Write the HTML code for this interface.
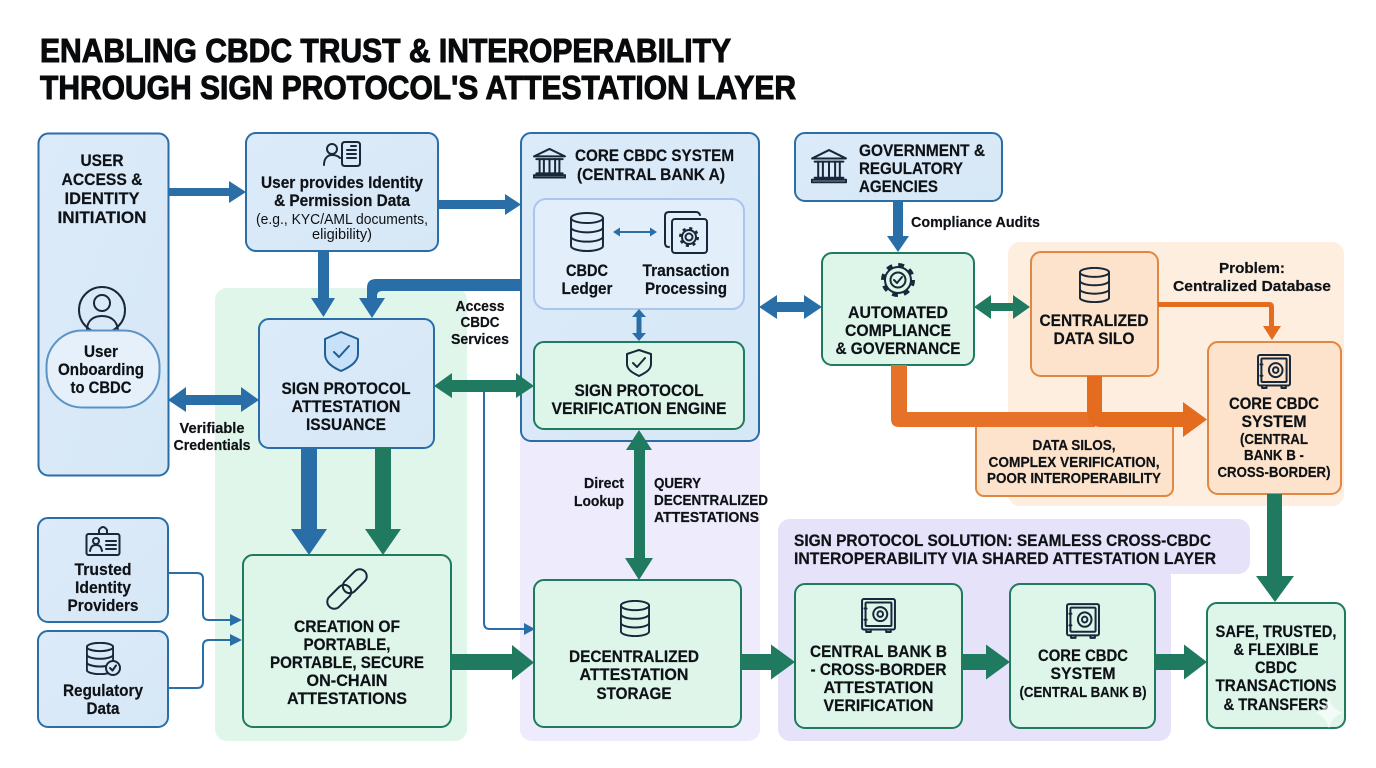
<!DOCTYPE html>
<html><head><meta charset="utf-8"><title>CBDC Attestation Layer</title>
<style>
html,body{margin:0;padding:0;background:#fff;width:1376px;height:768px;overflow:hidden}
svg{display:block}
text{font-family:"Liberation Sans",sans-serif;fill:#0e1216;stroke:#0e1216;stroke-width:.2px;font-weight:bold;font-size:17px;text-anchor:middle}
.l{text-anchor:start}
.r{font-weight:normal;stroke:none}
.s{font-size:15px}
.t{font-size:33px;stroke-width:1px;fill:#080a0c;stroke:#080a0c}
.ic{fill:none;stroke:#17283a;stroke-width:2;stroke-linecap:round;stroke-linejoin:round;vector-effect:non-scaling-stroke}
.ic *{vector-effect:non-scaling-stroke}
.b{fill:url(#gb);stroke:#2a6ea8;stroke-width:2}
.g{fill:url(#gg);stroke:#1f7a5f;stroke-width:2}
.o{fill:#fde3cb;stroke:#df8743;stroke-width:2}
.ab{fill:#2a6ea8}.ag{fill:#1f7a5f}.ao{fill:#e46c1f}
</style></head><body>
<svg xmlns="http://www.w3.org/2000/svg" width="1376" height="768" viewBox="0 0 1376 768">
<defs>
<linearGradient id="gb" x1="0" y1="0" x2="1" y2="1"><stop offset="0" stop-color="#dcebf9"/><stop offset="1" stop-color="#d6e7f6"/></linearGradient>
<linearGradient id="gg" x1="0" y1="0" x2="1" y2="1"><stop offset="0" stop-color="#def6ea"/><stop offset="1" stop-color="#dff5ea"/></linearGradient>
<symbol id="db" viewBox="0 0 100 120" preserveAspectRatio="none"><g class="ic"><ellipse cx="50" cy="18" rx="47" ry="15"/><path d="M3 18V102C3 110 24 117 50 117S97 110 97 102V18"/><path d="M3 46C3 54 24 61 50 61S97 54 97 46"/><path d="M3 74C3 82 24 89 50 89S97 82 97 74"/></g></symbol>
<symbol id="bank" viewBox="0 0 100 100" preserveAspectRatio="none"><g class="ic"><path d="M50 3L97 27H3Z"/><path d="M10 36H90M10 82H90M2 95H98V88H2Z"/><path d="M20 36V82M33 36V82M50 36V82M67 36V82M80 36V82"/></g></symbol>
<symbol id="safe" viewBox="0 0 100 100" preserveAspectRatio="none"><g class="ic"><rect x="3" y="3" width="94" height="87" rx="5"/><rect x="13" y="13" width="74" height="67" rx="3"/><circle cx="55" cy="46" r="20"/><circle cx="55" cy="46" r="8"/><path d="M10 30H16M10 62H16M15 90V97H28V90M72 90V97H85V90"/></g></symbol>
</defs>

<rect width="1376" height="768" fill="#fff"/>

<text class="l t" x="40" y="62" textLength="691" lengthAdjust="spacingAndGlyphs">ENABLING CBDC TRUST &amp; INTEROPERABILITY</text>
<text class="l t" x="40" y="99" textLength="756" lengthAdjust="spacingAndGlyphs">THROUGH SIGN PROTOCOL'S ATTESTATION LAYER</text>

<!-- background zones -->
<rect x="215" y="288" width="252" height="453" rx="12" fill="#e1f6ea"/>
<rect x="520" y="430" width="240" height="311" rx="12" fill="#edebfc"/>
<rect x="1008" y="242" width="336" height="264" rx="12" fill="#fdeee0"/>
<path d="M790 519H1238a12 12 0 0 1 12 12V562a12 12 0 0 1-12 12H1171V729a12 12 0 0 1-12 12H790a12 12 0 0 1-12-12V531a12 12 0 0 1 12-12Z" fill="#e5e2fa"/>

<!-- boxes -->
<rect class="b" x="38.500" y="133.500" width="130" height="342" rx="10"/>
<rect class="b" x="246" y="133" width="192" height="118" rx="10"/>
<rect class="b" x="521" y="133" width="238" height="308" rx="10"/>
<rect x="534" y="199" width="210" height="110" rx="12" fill="#e3eefb" stroke="#abc6ee" stroke-width="2"/>
<rect class="g" x="534" y="342" width="210" height="87" rx="10"/>
<rect class="b" x="795" y="133" width="207" height="68" rx="10"/>
<rect class="g" x="822" y="253" width="152" height="112" rx="10"/>
<rect class="o" x="1031" y="252" width="127" height="124" rx="10"/>
<rect class="o" x="1208" y="342" width="133" height="152" rx="10"/>
<rect class="o" x="976" y="420" width="197" height="76" rx="8"/>
<rect class="b" x="259" y="319" width="175" height="129" rx="10"/>
<rect class="g" x="243" y="555" width="208" height="172" rx="10"/>
<rect class="b" x="38" y="518" width="130" height="104" rx="10"/>
<rect class="b" x="38" y="631" width="130" height="96" rx="10"/>
<rect class="g" x="534" y="580" width="207" height="147" rx="10"/>
<rect class="g" x="795" y="584" width="167" height="144" rx="10"/>
<rect class="g" x="1010" y="584" width="145" height="144" rx="10"/>
<rect class="g" x="1207" y="603" width="138" height="125" rx="10"/>

<!-- avatar sits behind the pill -->
<g class="ic"><circle cx="102" cy="310" r="23"/><circle cx="102" cy="303" r="8"/><path d="M87 330C87 320 94 316 102 316C110 316 117 320 118 330"/></g>
<rect x="46.500" y="330.500" width="113" height="77" rx="36" fill="#e5f0fa" stroke="#5b93c4" stroke-width="2"/>

<!-- blue arrows -->
<path class="ab" d="M168 188H229V181L246 192L229 203V196H168Z"/>
<path class="ab" d="M438 200H505V194L521 204.500L505 215V209H438Z"/>
<path class="ab" d="M318 251H329V298H335L323.500 317L311 298H318Z"/>
<path class="ab" d="M521 279V291H382Q377 291 377 296V298H385L372 318L359 298H367V288Q367 279 376 279Z"/>
<path class="ab" d="M168 400L186 387V395H241V387L259 400L241 412V405H186V412Z"/>
<path class="ab" d="M301 448H317V529H327L309 555L291 529H301Z"/>
<path class="ab" d="M893 201H903V236H909L898 252L887 236H893Z"/>
<path class="ab" d="M759 307L777 295V302H804V295L822 307L804 319V312H777V319Z"/>
<path class="ab" d="M636.500 317H641.500V333H646L639 341L632 333H636.500ZM636.500 333V317H632L639 309L646 317H641.500V333Z"/>
<path d="M618 232H652" stroke="#2a6ea8" stroke-width="2"/><path class="ab" d="M613 232L620 227.500V236.500ZM657 232L650 227.500V236.500Z"/>

<!-- thin connectors -->
<g fill="none" stroke="#2a6ea8" stroke-width="2">
<path d="M168 573H197Q203 573 203 579V614Q203 620 209 620H232"/>
<path d="M168 688H197Q203 688 203 682V646Q203 640 209 640H232"/>
<path d="M484 392V623Q484 629 490 629H526"/>
</g>
<path class="ab" d="M242 620L230 614V626ZM242 640L230 634V646ZM535 629L524 623V635Z"/>

<!-- green arrows -->
<path class="ag" d="M434 386L452 373V380H516V373L534 386L516 398V392H452V398Z"/>
<path class="ag" d="M375 448H391V529H401L383 555L365 529H375Z"/>
<path class="ag" d="M634 450H626L639 430L652 450H645V558H653L639 580L625 558H634Z"/>
<path class="ag" d="M974 307L991 295V303H1013V295L1030 307L1013 319V311H991V319Z"/>
<path class="ag" d="M451 654H512V645L534 662.500L512 680V670H451Z"/>
<path class="ag" d="M741 654H771V644.500L795 662L771 679.500V670H741Z"/>
<path class="ag" d="M962 654H986V644.500L1010 662L986 679.500V670H962Z"/>
<path class="ag" d="M1155 654H1184V644.500L1207 662L1184 679.500V670H1155Z"/>
<path class="ag" d="M1267 494H1282V576H1294L1275 602L1256 576H1267Z"/>

<!-- orange arrows -->
<path fill="#e6722a" d="M891 365H907V412H1095V427H899Q891 427 891 419Z"/>
<path class="ao" d="M1087 376H1102V412H1183V402L1207 419.500L1183 437V427H1099Q1087 425 1087 414Z"/>
<path class="ao" d="M1158 302H1269Q1274 302 1274 307V326H1281L1272 340L1263 326H1269V307H1158Z"/>

<!-- labels: left column -->
<text x="102" y="166" textLength="43" lengthAdjust="spacingAndGlyphs">USER</text>
<text x="102" y="185" textLength="81" lengthAdjust="spacingAndGlyphs">ACCESS &amp;</text>
<text x="102" y="204" textLength="75" lengthAdjust="spacingAndGlyphs">IDENTITY</text>
<text x="102" y="223" textLength="89" lengthAdjust="spacingAndGlyphs">INITIATION</text>
<text x="101" y="357" textLength="34" lengthAdjust="spacingAndGlyphs">User</text>
<text x="101" y="375" textLength="86" lengthAdjust="spacingAndGlyphs">Onboarding</text>
<text x="101" y="393" textLength="61" lengthAdjust="spacingAndGlyphs">to CBDC</text>
<text x="103" y="575" textLength="57" lengthAdjust="spacingAndGlyphs">Trusted</text>
<text x="103" y="593" textLength="56" lengthAdjust="spacingAndGlyphs">Identity</text>
<text x="103" y="611" textLength="71" lengthAdjust="spacingAndGlyphs">Providers</text>
<text x="103" y="696" textLength="80" lengthAdjust="spacingAndGlyphs">Regulatory</text>
<text x="103" y="714" textLength="33" lengthAdjust="spacingAndGlyphs">Data</text>

<text x="342" y="188" textLength="162" lengthAdjust="spacingAndGlyphs">User provides Identity</text>
<text x="342" y="206" textLength="136" lengthAdjust="spacingAndGlyphs">&amp; Permission Data</text>
<text class="r" x="342" y="224" style="font-size:15px" textLength="172" lengthAdjust="spacingAndGlyphs">(e.g., KYC/AML documents,</text>
<text class="r" x="342" y="239" style="font-size:15px" textLength="60" lengthAdjust="spacingAndGlyphs">eligibility)</text>
<text x="480" y="311" class="s" textLength="49" lengthAdjust="spacingAndGlyphs">Access</text>
<text x="480" y="327" class="s" textLength="39" lengthAdjust="spacingAndGlyphs">CBDC</text>
<text x="480" y="344" class="s" textLength="58" lengthAdjust="spacingAndGlyphs">Services</text>
<text x="346" y="394" textLength="129" lengthAdjust="spacingAndGlyphs">SIGN PROTOCOL</text>
<text x="346" y="412" textLength="109" lengthAdjust="spacingAndGlyphs">ATTESTATION</text>
<text x="346" y="430" textLength="80" lengthAdjust="spacingAndGlyphs">ISSUANCE</text>
<text x="212" y="433" class="s" textLength="65" lengthAdjust="spacingAndGlyphs">Verifiable</text>
<text x="212" y="450" class="s" textLength="77" lengthAdjust="spacingAndGlyphs">Credentials</text>
<text x="347" y="632" textLength="106" lengthAdjust="spacingAndGlyphs">CREATION OF</text>
<text x="347" y="650" textLength="87" lengthAdjust="spacingAndGlyphs">PORTABLE,</text>
<text x="347" y="668" textLength="154" lengthAdjust="spacingAndGlyphs">PORTABLE, SECURE</text>
<text x="347" y="686" textLength="81" lengthAdjust="spacingAndGlyphs">ON-CHAIN</text>
<text x="347" y="704" textLength="120" lengthAdjust="spacingAndGlyphs">ATTESTATIONS</text>

<!-- labels: centre -->
<text class="l" x="575" y="161" textLength="159" lengthAdjust="spacingAndGlyphs">CORE CBDC SYSTEM</text>
<text class="l" x="577" y="180" textLength="148" lengthAdjust="spacingAndGlyphs">(CENTRAL BANK A)</text>
<text x="587" y="276" textLength="42" lengthAdjust="spacingAndGlyphs">CBDC</text>
<text x="587" y="294" textLength="51" lengthAdjust="spacingAndGlyphs">Ledger</text>
<text x="686" y="276" textLength="87" lengthAdjust="spacingAndGlyphs">Transaction</text>
<text x="686" y="294" textLength="82" lengthAdjust="spacingAndGlyphs">Processing</text>
<text x="639" y="396" textLength="129" lengthAdjust="spacingAndGlyphs">SIGN PROTOCOL</text>
<text x="639" y="414" textLength="175" lengthAdjust="spacingAndGlyphs">VERIFICATION ENGINE</text>
<text class="s" x="604" y="488" textLength="40" lengthAdjust="spacingAndGlyphs">Direct</text>
<text class="s" x="599" y="506" textLength="50" lengthAdjust="spacingAndGlyphs">Lookup</text>
<text class="l s" x="654" y="488" textLength="47" lengthAdjust="spacingAndGlyphs">QUERY</text>
<text class="l s" x="654" y="505" textLength="114" lengthAdjust="spacingAndGlyphs">DECENTRALIZED</text>
<text class="l s" x="654" y="522" textLength="105" lengthAdjust="spacingAndGlyphs">ATTESTATIONS</text>
<text x="634" y="662" textLength="130" lengthAdjust="spacingAndGlyphs">DECENTRALIZED</text>
<text x="634" y="680" textLength="109" lengthAdjust="spacingAndGlyphs">ATTESTATION</text>
<text x="634" y="699" textLength="75" lengthAdjust="spacingAndGlyphs">STORAGE</text>

<!-- labels: right -->
<text class="l" x="859" y="156" textLength="126" lengthAdjust="spacingAndGlyphs">GOVERNMENT &amp;</text>
<text class="l" x="859" y="174" textLength="104" lengthAdjust="spacingAndGlyphs">REGULATORY</text>
<text class="l" x="859" y="192" textLength="79" lengthAdjust="spacingAndGlyphs">AGENCIES</text>
<text class="l s" x="911" y="227" textLength="129" lengthAdjust="spacingAndGlyphs">Compliance Audits</text>
<text x="898" y="318" textLength="100" lengthAdjust="spacingAndGlyphs">AUTOMATED</text>
<text x="898" y="336" textLength="106" lengthAdjust="spacingAndGlyphs">COMPLIANCE</text>
<text x="898" y="354" textLength="125" lengthAdjust="spacingAndGlyphs">&amp; GOVERNANCE</text>
<text x="1094" y="326" textLength="109" lengthAdjust="spacingAndGlyphs">CENTRALIZED</text>
<text x="1094" y="344" textLength="81" lengthAdjust="spacingAndGlyphs">DATA SILO</text>
<text x="1252" y="273" class="s" textLength="66" lengthAdjust="spacingAndGlyphs">Problem:</text>
<text x="1252" y="291" class="s" textLength="158" lengthAdjust="spacingAndGlyphs">Centralized Database</text>
<text x="1074" y="450" class="s" textLength="83" lengthAdjust="spacingAndGlyphs">DATA SILOS,</text>
<text x="1074" y="467" class="s" textLength="171" lengthAdjust="spacingAndGlyphs">COMPLEX VERIFICATION,</text>
<text x="1074" y="483" class="s" textLength="174" lengthAdjust="spacingAndGlyphs">POOR INTEROPERABILITY</text>
<text x="1274" y="409" textLength="90" lengthAdjust="spacingAndGlyphs">CORE CBDC</text>
<text x="1274" y="427" textLength="65" lengthAdjust="spacingAndGlyphs">SYSTEM</text>
<text x="1274" y="444" class="s" textLength="68" lengthAdjust="spacingAndGlyphs">(CENTRAL</text>
<text x="1274" y="460" class="s" textLength="60" lengthAdjust="spacingAndGlyphs">BANK B -</text>
<text x="1274" y="477" class="s" textLength="113" lengthAdjust="spacingAndGlyphs">CROSS-BORDER)</text>
<text class="l" x="794" y="546" textLength="417" lengthAdjust="spacingAndGlyphs">SIGN PROTOCOL SOLUTION: SEAMLESS CROSS-CBDC</text>
<text class="l" x="794" y="564" textLength="422" lengthAdjust="spacingAndGlyphs">INTEROPERABILITY VIA SHARED ATTESTATION LAYER</text>
<text x="878.500" y="657" textLength="137" lengthAdjust="spacingAndGlyphs">CENTRAL BANK B</text>
<text x="878.500" y="675" textLength="136" lengthAdjust="spacingAndGlyphs">- CROSS-BORDER</text>
<text x="878.500" y="693" textLength="110" lengthAdjust="spacingAndGlyphs">ATTESTATION</text>
<text x="878.500" y="711" textLength="110" lengthAdjust="spacingAndGlyphs">VERIFICATION</text>
<text x="1083" y="661" textLength="90" lengthAdjust="spacingAndGlyphs">CORE CBDC</text>
<text x="1083" y="679" textLength="65" lengthAdjust="spacingAndGlyphs">SYSTEM</text>
<text x="1083" y="697" class="s" textLength="127" lengthAdjust="spacingAndGlyphs">(CENTRAL BANK B)</text>
<text x="1276" y="637" textLength="121" lengthAdjust="spacingAndGlyphs">SAFE, TRUSTED,</text>
<text x="1276" y="655" textLength="85" lengthAdjust="spacingAndGlyphs">&amp; FLEXIBLE</text>
<text x="1276" y="673" textLength="42" lengthAdjust="spacingAndGlyphs">CBDC</text>
<text x="1276" y="691" textLength="121" lengthAdjust="spacingAndGlyphs">TRANSACTIONS</text>
<text x="1276" y="710" textLength="105" lengthAdjust="spacingAndGlyphs">&amp; TRANSFERS</text>

<!-- icons -->
<use href="#bank" x="533" y="148" width="33" height="31"/>
<use href="#bank" x="811" y="149" width="36" height="35"/>
<use href="#db" x="570" y="212" width="34" height="40"/>
<use href="#db" x="1079" y="267" width="31" height="36"/>
<use href="#db" x="620" y="600" width="30" height="37"/>
<use href="#db" x="86" y="642" width="28" height="33"/>
<use href="#safe" x="1257" y="354" width="34" height="35"/>
<use href="#safe" x="861" y="598" width="35" height="35"/>
<use href="#safe" x="1066" y="603" width="34" height="36"/>
<g class="ic">
 <!-- person + document -->
 <circle cx="332" cy="149" r="5"/><path d="M324 165C324 158 328 155 332 155C335 155 338 156 340 158"/>
 <path d="M345 142H357Q360 142 360 145V163Q360 166 357 166H345Q342 166 342 163V145Q342 142 345 142ZM347 150H356M347 154H356M347 158H356M351 146H356"/>
 <!-- issuance shield -->
 <path d="M341 332L358 339V354C358 362 350 367 341 371C332 367 325 362 325 354V339Z" fill="#c7e1f8" stroke="#1f5f95"/>
 <path d="M334 352L339 357L349 346" stroke="#1f5f95"/>
 <!-- verification shield -->
 <path d="M639 350L651 354V364C651 370 645 373 639 376C633 373 627 370 627 364V354Z"/><path d="M633 363L637 367L645 358"/>
 <!-- transaction processing -->
 <path d="M669 247Q665 247 665 243V216Q665 212 669 212H696Q699 212 700 215"/>
 <rect x="672" y="219" width="35" height="34" rx="3"/>
 <circle cx="689" cy="237" r="3.500"/><circle cx="689" cy="237" r="7"/>
 <circle cx="689" cy="237" r="8.500" stroke-width="3" stroke-dasharray="3 3.670" stroke-linecap="butt" style="stroke-width:3px;stroke-linecap:butt"/>
 <!-- compliance gear -->
 <circle cx="898" cy="280" r="7.500"/><path d="M894 280L897 283L902 277"/>
 <circle cx="898" cy="280" r="13"/>
 <circle cx="898" cy="280" r="15" style="stroke-width:4px;stroke-linecap:butt" stroke-dasharray="5.800 6"/>
 <!-- id badge -->
 <rect x="86.500" y="534" width="33" height="21" rx="2"/><path d="M99 534V530Q103 524 107 530V534"/>
 <circle cx="96" cy="541" r="3"/><path d="M90 551C91 546 93 545 96 545C99 545 101 546 102 551M106 541H116M106 545H116M106 549H116"/>
 <!-- check on regulatory data -->
 <circle cx="113" cy="668" r="7" fill="#d8e9f7"/><path d="M110 668L112.500 670.500L116 665.500"/>
 <!-- link -->
 <g transform="rotate(-45 347 589)"><rect x="322" y="582" width="28" height="14" rx="7"/><rect x="344" y="582" width="28" height="14" rx="7"/></g>
</g>
<path d="M1329 697Q1331 709 1343 713Q1331 717 1329 729Q1327 717 1315 713Q1327 709 1329 697Z" fill="#fff" opacity=".6"/>
</svg>
</body></html>
